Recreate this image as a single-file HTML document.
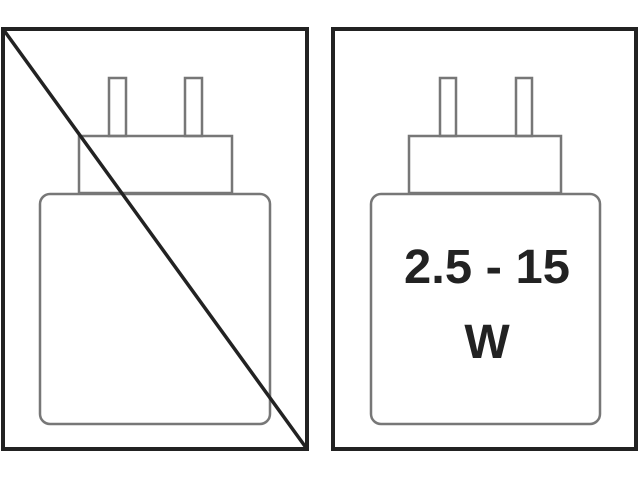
<!DOCTYPE html><html><head><style>body{margin:0;background:#fff}</style></head><body>
<svg width="640" height="480" xmlns="http://www.w3.org/2000/svg">
<g fill="none" stroke="#222" stroke-width="4">
<rect x="3" y="29" width="304" height="420"/>
<rect x="333" y="29" width="303" height="420"/>
</g>
<g fill="none" stroke="#777" stroke-width="2.5">
<rect x="109" y="78" width="17" height="58"/>
<rect x="185" y="78" width="17" height="58"/>
<rect x="79" y="136" width="153" height="57"/>
<rect x="40" y="194" width="230" height="230" rx="10"/>
<rect x="440" y="78" width="16" height="58"/>
<rect x="516" y="78" width="16" height="58"/>
<rect x="409" y="136" width="152" height="57"/>
<rect x="371" y="194" width="229" height="230" rx="10"/>
</g>
<line x1="3" y1="29" x2="307" y2="449" stroke="#222" stroke-width="3.5"/>
<g font-family="Liberation Sans, sans-serif" font-weight="bold" font-size="48" fill="#222" text-anchor="middle">
<text x="487" y="283" textLength="166" lengthAdjust="spacingAndGlyphs">2.5 - 15</text>
<text x="487" y="358">W</text>
</g>
</svg>
</body></html>
